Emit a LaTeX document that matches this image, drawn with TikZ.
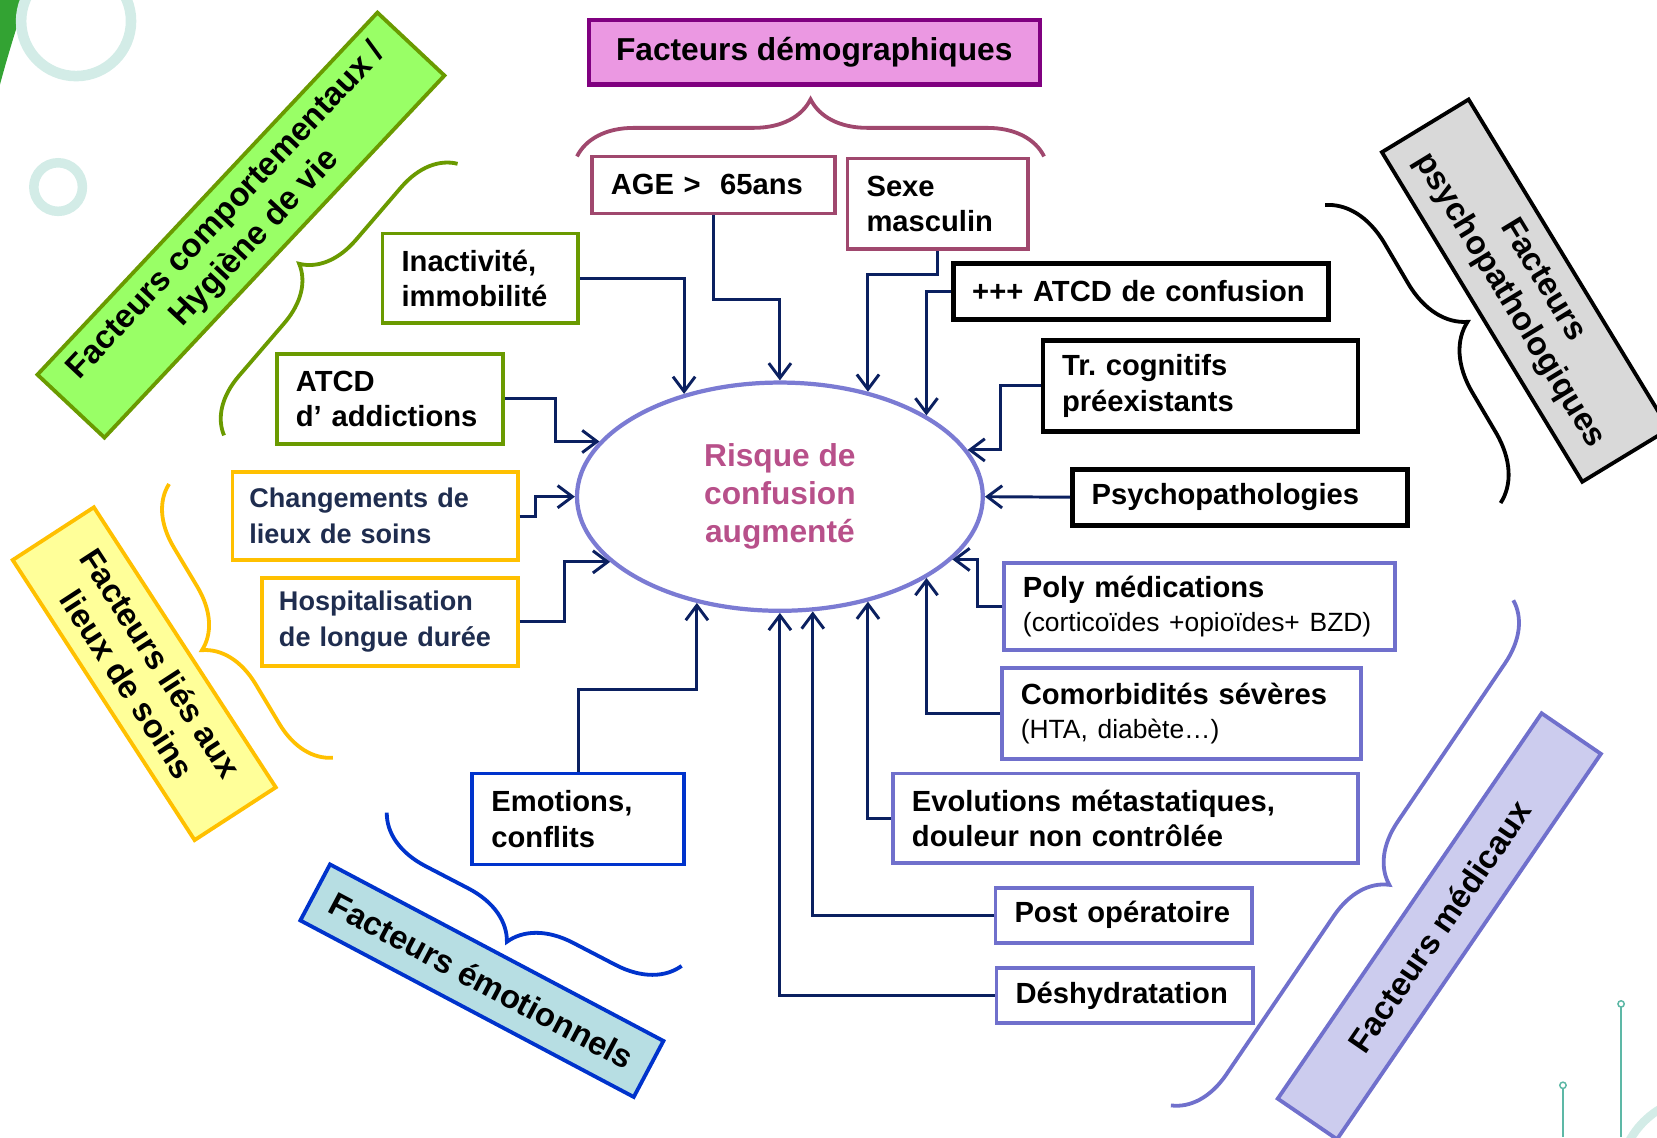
\documentclass[tikz,border=0pt]{standalone}
\usepackage{fontspec}
\setmainfont{Liberation Sans}
\frenchspacing
\usetikzlibrary{shapes.geometric,arrows.meta,decorations.pathreplacing}

\definecolor{navy}{HTML}{0B2060}
\definecolor{demoline}{HTML}{A0486E}
\definecolor{demoedge}{HTML}{800080}
\definecolor{demofill}{HTML}{EB98E2}
\definecolor{greenline}{HTML}{6A9A00}
\definecolor{greenfill}{HTML}{99FF66}
\definecolor{yellowline}{HTML}{FFC000}
\definecolor{yellowfill}{HTML}{FFFF99}
\definecolor{blueline}{HTML}{0033CC}
\definecolor{cyanfill}{HTML}{B7DEE3}
\definecolor{medline}{HTML}{7070CC}
\definecolor{medfill}{HTML}{CCCCEE}
\definecolor{ringline}{HTML}{7B7BD3}
\definecolor{riskpink}{HTML}{B8508A}
\definecolor{greyfill}{HTML}{D9D9D9}
\definecolor{soinstext}{HTML}{1F2D4F}
\definecolor{bgteal}{HTML}{D3ECE7}
\definecolor{bgline}{HTML}{5DB8A6}

\tikzset{
  factor/.style={draw, fill=white, line width=1.8pt, align=left, inner xsep=9pt, inner ysep=2pt,
    font=\fontsize{13.8}{17}\selectfont\bfseries},
  blackfactor/.style={factor, draw=black, line width=2.3pt},
  soinsfactor/.style={factor, draw=yellowline, text=soinstext, inner xsep=8pt,
    font=\fontsize{12.8}{17}\selectfont\bfseries},
  conn/.style={draw=navy, line width=1.4pt, -{Straight Barb[length=7pt,width=10.5pt]}},
  groupbrace/.style={decorate, decoration={brace, amplitude=#1}, line width=1.8pt},
  grouplabel/.style={draw, line width=1.8pt, align=center, inner sep=0pt,
    font=\fontsize{15.5}{18.5}\selectfont\bfseries},
}

\begin{document}
\begin{tikzpicture}[x=0.5pt, y=-0.5pt]
\useasboundingbox (0,0) rectangle (1568,1076);
\clip (0,0) rectangle (1568,1076);

% slide background
\fill[green!55!black, opacity=0.8] (0,0) -- (24,0) .. controls (16,25) and (8,50) .. (0,80) -- cycle;
\draw[bgteal, line width=5pt] (72,20) circle[radius=52];
\draw[bgteal, line width=4.5pt] (55,177) circle[radius=23];
\draw[bgteal, line width=4pt] (1612,1118) circle[radius=80];
\draw[bgline, line width=0.7pt] (1534,953) -- (1534,1076) (1479,1030) -- (1479,1076);
\draw[bgline, line width=0.7pt, fill=white] (1534,950) circle[radius=3] (1479,1027) circle[radius=3];

% centre
\node[ellipse, draw=ringline, line width=2pt, minimum width=192pt, minimum height=108pt,
  text=riskpink, align=center, font=\fontsize{15}{18}\selectfont\bfseries] (risk) at (738,470)
  {Risque de\\confusion\\augmenté};

% demographie
\node[draw=demoedge, fill=demofill, line width=2pt, minimum width=213.5pt, minimum height=30.5pt,
  font=\fontsize{15}{18}\selectfont\bfseries] (demo) at (770.5,49.5) {Facteurs démographiques};
\draw[groupbrace=27pt, demoline] (546,148) -- (988,148);
\node[factor, draw=demoline, text width=97pt, minimum height=27pt] (age) at (675,175) {AGE >~ 65ans};
\node[factor, draw=demoline, text width=67.5pt, minimum height=43pt] (sexe) at (887.5,193) {Sexe\\masculin};

% psychopathologie
\node[blackfactor, text width=159.5pt, minimum height=26.5pt] (confu) at (1079.5,275.5) {+++ ATCD de confusion};
\node[blackfactor, text width=131pt, minimum height=43pt] (cogn) at (1136,365) {Tr. cognitifs\\préexistants};
\node[blackfactor, text width=140.5pt, minimum height=26.5pt] (psycho) at (1173.5,470.5) {Psychopathologies};
\draw[groupbrace=30pt, black] (1254,194) -- (1420,476);
\node[grouplabel, draw=black, fill=greyfill, rotate=-58.7, minimum width=182.5pt, minimum height=48pt]
  (psycholab) at (1443.5,275) {Facteurs\\psychopathologiques};

% medical
\node[factor, draw=medline, text width=167pt, minimum height=41pt] (poly) at (1135,574)
  {Poly médications\\[-1pt]{\mdseries\fontsize{12.5}{15}\selectfont(corticoïdes +opioïdes+ BZD)}};
\node[factor, draw=medline, text width=152pt, minimum height=43pt] (comorb) at (1118,675)
  {Comorbidités sévères\\[-1pt]{\mdseries\fontsize{12.5}{15}\selectfont(HTA, diabète…)}};
\node[factor, draw=medline, text width=202pt, minimum height=42.5pt] (evol) at (1065,774.5)
  {Evolutions métastatiques,\\douleur non contrôlée};
\node[factor, draw=medline, text width=103.5pt, minimum height=26pt] (postop) at (1063.5,866) {Post opératoire};
\node[factor, draw=medline, text width=103.5pt, minimum height=26pt] (deshyd) at (1064.5,942) {Déshydratation};
\draw[groupbrace=27pt, medline] (1432,568) -- (1108,1046);
\node[grouplabel, draw=medline, fill=medfill, rotate=55.6, minimum width=221pt, minimum height=34pt]
  (medlab) at (1362,876.5) {Facteurs médicaux};

% comportement
\node[factor, draw=greenline, text width=74.5pt, minimum height=42.5pt] (inact) at (454.5,263.5) {Inactivité,\\immobilité};
\node[factor, draw=greenline, text width=89pt, minimum height=42.5pt] (addict) at (369,377.5) {ATCD\\d’ addictions};
\draw[groupbrace=26pt, greenline] (212,412) -- (433,155);
\node[grouplabel, draw=greenline, fill=greenfill, rotate=46.8, minimum width=235pt, minimum height=43.5pt]
  (compolab) at (228,213) {Facteurs comportementaux /\\Hygiène de vie};

% lieux de soins
\node[soinsfactor, text width=119pt, minimum height=41.5pt] (chgt) at (355,488.5) {Changements de\\lieux de soins};
\node[soinsfactor, text width=105pt, minimum height=41.5pt] (hosp) at (369,588.5) {Hospitalisation\\de longue durée};
\draw[groupbrace=27pt, yellowline] (315,717) -- (160,458);
\node[grouplabel, draw=yellowline, fill=yellowfill, rotate=-57, minimum width=158pt, minimum height=45.8pt]
  (soinslab) at (136.5,637.5) {Facteurs liés aux\\lieux de soins};

% emotions
\node[factor, draw=blueline, text width=82pt, minimum height=43pt] (emot) at (547,775) {Emotions,\\conflits};
\draw[groupbrace=28pt, blueline] (645,914) -- (366,769);
\node[grouplabel, draw=blueline, fill=cyanfill, rotate=-27.9, minimum width=178.5pt, minimum height=30pt]
  (emotlab) at (456,928) {Facteurs émotionnels};

% connecteurs
\draw[conn] (inact.east) -| (risk.133.8);
\draw[conn] (age.south) -- ++(0,80) -| (risk.north);
\draw[conn] (sexe.south) -- ++(0,22) -| (risk.50.8);
\draw[conn] (confu.west) -| (risk.29);
\draw[conn] (cogn.west) -- ++(-38,0) |- (risk.14.8);
\draw[conn] (psycho.west) -- (risk.east);
\draw[conn] (poly.west) -- ++(-23,0) |- (risk.-20.6);
\draw[conn] (comorb.west) -| (risk.-29);
\draw[conn] (evol.west) -| (risk.-50.8);
\draw[conn] (postop.west) -| (risk.-74.3);
\draw[conn] (deshyd.west) -| (risk.south);
\draw[conn] (emot.north) -- ++(0,-78) -| (risk.-128.2);
\draw[conn] (addict.east) -- ++(48,0) |- (risk.163.6);
\draw[conn] (chgt.east) -- ++(14.5,0) |- (risk.west);
\draw[conn] (hosp.east) -- ++(42,0) |- (risk.-159.4);
\end{tikzpicture}
\end{document}
